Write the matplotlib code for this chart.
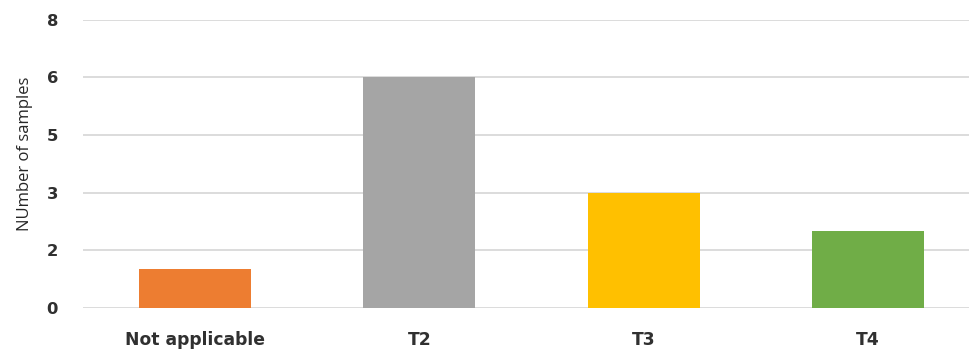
import numpy as np
import matplotlib
matplotlib.use('Agg')
import matplotlib.pyplot as plt
from matplotlib.ticker import FuncFormatter

plt.rcParams['font.family'] = ['Open Sans', 'DejaVu Sans']

categories = ['Not applicable', 'T2', 'T3', 'T4']
samples = [1.07, 6.4, 3.2, 2.13]
colors = ['#ED7D31', '#A5A5A5', '#FFC000', '#70AD47']
yticks = np.linspace(0, 8, 6)

fig = plt.figure(figsize=(9.69, 3.52), dpi=100)
ax = fig.add_axes([0.0857, 0.1264, 0.9257, 0.8168])

x = np.arange(len(categories))
ax.bar(x, samples, width=0.5, color=colors, zorder=3)

ax.set_xlim(-0.5, len(categories) - 0.5)
ax.set_ylim(0, 8)
ax.set_yticks(yticks)
ax.yaxis.set_major_formatter(FuncFormatter(lambda v, pos: '%.0f' % v))
ax.set_xticks(x)
ax.set_xticklabels(categories)

ax.grid(axis='y', color='#d9d9d9', lw=1.3, zorder=0)
for s in ax.spines.values():
    s.set_visible(False)
ax.tick_params(axis='both', length=0, labelcolor='#303030')
ax.tick_params(axis='x', pad=17)
ax.tick_params(axis='y', pad=18)
for lab in ax.get_xticklabels():
    lab.set_fontproperties({'family': 'DejaVu Sans',
                            'weight': 'bold', 'size': 12.3})
for lab in ax.get_yticklabels():
    lab.set_fontproperties({'family': 'DejaVu Sans',
                            'weight': 'bold', 'size': 11.8})

ax.set_ylabel('NUmber of samples', fontsize=12, color='#262626')
ax.yaxis.set_label_coords(-0.056, 0.536)

fig.savefig('out.png', dpi=100)
